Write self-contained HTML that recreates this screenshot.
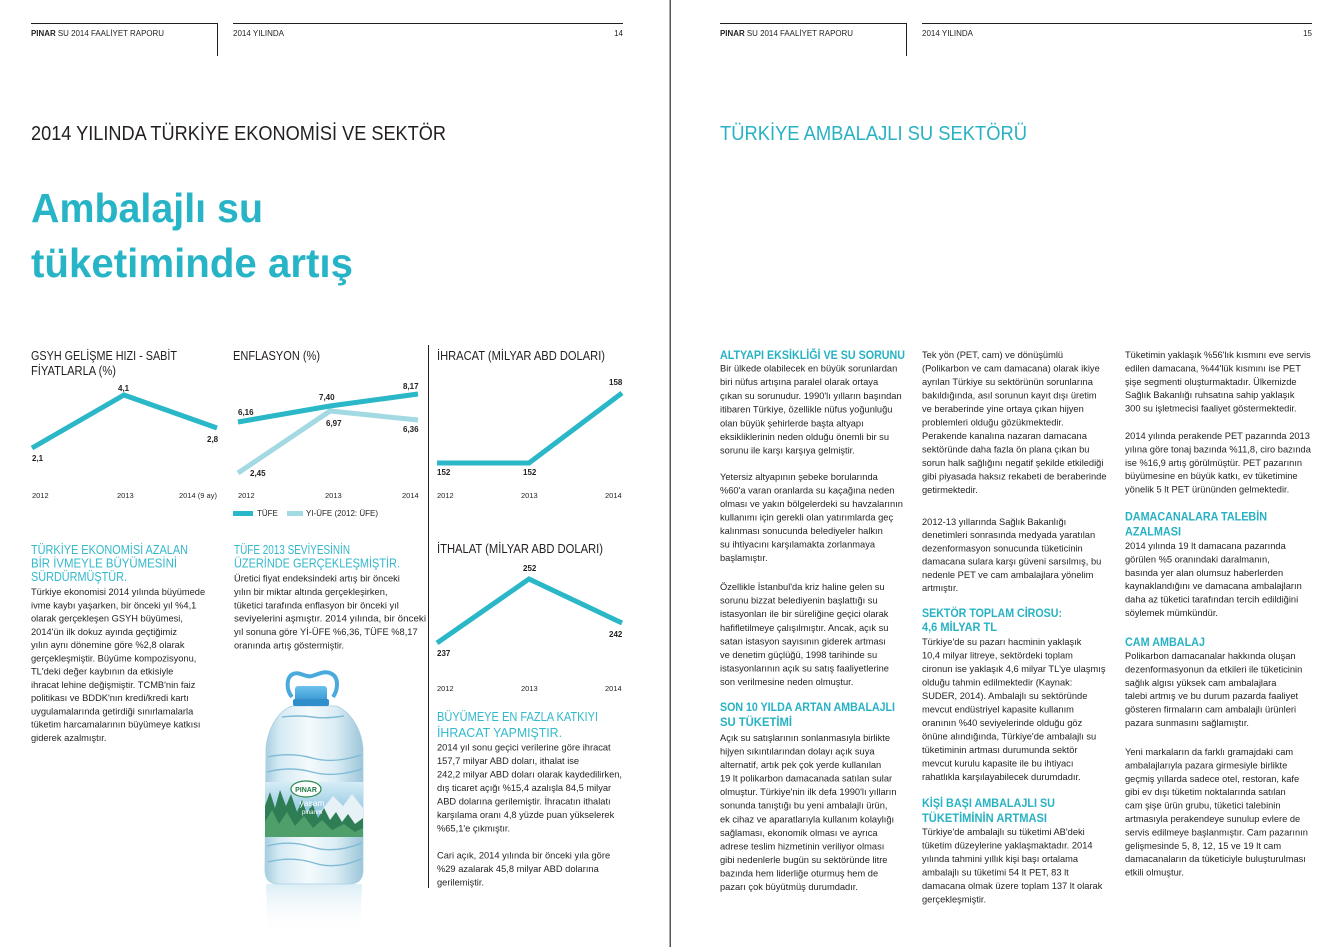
<!DOCTYPE html>
<html><head><meta charset="utf-8">
<style>
html,body{margin:0;padding:0;background:#fff;}
svg{display:block;}
.b{font-family:"Liberation Sans",sans-serif;font-size:9.3px;fill:#231f20;}
.h{font-family:"Liberation Sans",sans-serif;font-size:11.5px;font-weight:bold;fill:#27b2c4;}
.lh{font-family:"Liberation Sans",sans-serif;font-size:13px;fill:#33b9cc;}
.ct{font-family:"Liberation Sans",sans-serif;font-size:13px;fill:#231f20;}
.v{font-family:"Liberation Sans",sans-serif;font-size:8px;font-weight:bold;fill:#231f20;}
.y{font-family:"Liberation Sans",sans-serif;font-size:7.5px;fill:#231f20;}
.hd{font-family:"Liberation Sans",sans-serif;font-size:8px;fill:#231f20;}
</style></head>
<body>
<svg width="1340" height="947" viewBox="0 0 1340 947" xmlns="http://www.w3.org/2000/svg">
<defs>
<linearGradient id="bg" x1="0" x2="1" y1="0" y2="0">
<stop offset="0" stop-color="#a6cde0"/><stop offset="0.15" stop-color="#d5eaf3"/><stop offset="0.45" stop-color="#f4fafc"/><stop offset="0.72" stop-color="#dbedf4"/><stop offset="1" stop-color="#9cc6da"/>
</linearGradient>
<linearGradient id="sky" x1="0" x2="0" y1="0" y2="1">
<stop offset="0" stop-color="#d6edf6"/><stop offset="1" stop-color="#5aa8d0"/>
</linearGradient>
<linearGradient id="refl" x1="0" x2="0" y1="0" y2="1">
<stop offset="0" stop-color="#d4eaf3" stop-opacity="0.8"/><stop offset="1" stop-color="#ffffff" stop-opacity="0"/>
</linearGradient>
<linearGradient id="cap" x1="0" x2="0" y1="0" y2="1">
<stop offset="0" stop-color="#6cc2ec"/><stop offset="1" stop-color="#2a8ccb"/>
</linearGradient>
</defs>

<!-- spine -->
<rect x="669.5" y="0" width="1.5" height="947" fill="#555"/>

<!-- headers -->
<g stroke="#231f20" stroke-width="1" fill="none">
<line x1="31" y1="23.5" x2="217.5" y2="23.5"/><line x1="217.5" y1="23" x2="217.5" y2="56"/>
<line x1="233" y1="23.5" x2="623" y2="23.5"/>
<line x1="720" y1="23.5" x2="906.5" y2="23.5"/><line x1="906.5" y1="23" x2="906.5" y2="56"/>
<line x1="922" y1="23.5" x2="1312" y2="23.5"/>
</g>
<text class="hd" x="31" y="36" textLength="133" lengthAdjust="spacingAndGlyphs"><tspan font-weight="bold">PINAR</tspan> SU 2014 FAALİYET RAPORU</text>
<text class="hd" x="233" y="36" textLength="51" lengthAdjust="spacingAndGlyphs">2014 YILINDA</text>
<text class="hd" x="623" y="36" text-anchor="end">14</text>
<text class="hd" x="720" y="36" textLength="133" lengthAdjust="spacingAndGlyphs"><tspan font-weight="bold">PINAR</tspan> SU 2014 FAALİYET RAPORU</text>
<text class="hd" x="922" y="36" textLength="51" lengthAdjust="spacingAndGlyphs">2014 YILINDA</text>
<text class="hd" x="1312" y="36" text-anchor="end">15</text>

<!-- titles -->
<text x="31" y="140" font-family="Liberation Sans, sans-serif" font-size="20.5" fill="#231f20" textLength="415" lengthAdjust="spacingAndGlyphs">2014 YILINDA TÜRKİYE EKONOMİSİ VE SEKTÖR</text>
<text x="720" y="140" font-family="Liberation Sans, sans-serif" font-size="20.5" fill="#27b2c4" textLength="307" lengthAdjust="spacingAndGlyphs">TÜRKİYE AMBALAJLI SU SEKTÖRÜ</text>
<text x="31" y="222" font-family="Liberation Sans, sans-serif" font-size="41" font-weight="bold" fill="#27b4c6" textLength="232" lengthAdjust="spacingAndGlyphs">Ambalajlı su</text>
<text x="31" y="277" font-family="Liberation Sans, sans-serif" font-size="41" font-weight="bold" fill="#27b4c6" textLength="322" lengthAdjust="spacingAndGlyphs">tüketiminde artış</text>

<!-- charts -->
<text class="ct" x="31" y="360" textLength="146" lengthAdjust="spacingAndGlyphs">GSYH GELİŞME HIZI - SABİT</text>
<text class="ct" x="31" y="375" textLength="85" lengthAdjust="spacingAndGlyphs">FİYATLARLA (%)</text>
<text class="ct" x="233" y="360" textLength="87" lengthAdjust="spacingAndGlyphs">ENFLASYON (%)</text>
<text class="ct" x="437" y="360" textLength="168" lengthAdjust="spacingAndGlyphs">İHRACAT (MİLYAR ABD DOLARI)</text>
<text class="ct" x="437" y="553" textLength="166" lengthAdjust="spacingAndGlyphs">İTHALAT (MİLYAR ABD DOLARI)</text>

<line x1="428.5" y1="345" x2="428.5" y2="888" stroke="#231f20" stroke-width="1"/>

<g fill="none" stroke-width="5" stroke-linejoin="miter">
<polyline points="32,448 124,395 217,428" stroke="#2ab7c7"/>
<polyline points="238,473 330,411 418,420" stroke="#a3d9e2"/>
<polyline points="238,422 330,406 418,394" stroke="#2ab7c7"/>
<polyline points="437,463 529,463 622,393" stroke="#2ab7c7"/>
<polyline points="437,643 529,579 622,623" stroke="#2ab7c7"/>
</g>

<text class="v" x="32" y="461">2,1</text>
<text class="v" x="118" y="391">4,1</text>
<text class="v" x="207" y="442">2,8</text>
<text class="v" x="238" y="415">6,16</text>
<text class="v" x="319" y="400">7,40</text>
<text class="v" x="403" y="389">8,17</text>
<text class="v" x="326" y="426">6,97</text>
<text class="v" x="403" y="432">6,36</text>
<text class="v" x="250" y="476">2,45</text>
<text class="v" x="437" y="475">152</text>
<text class="v" x="523" y="475">152</text>
<text class="v" x="609" y="385">158</text>
<text class="v" x="523" y="571">252</text>
<text class="v" x="437" y="656">237</text>
<text class="v" x="609" y="637">242</text>

<text class="y" x="32" y="498">2012</text>
<text class="y" x="117" y="498">2013</text>
<text class="y" x="179" y="498">2014 (9 ay)</text>
<text class="y" x="238" y="498">2012</text>
<text class="y" x="325" y="498">2013</text>
<text class="y" x="402" y="498">2014</text>
<text class="y" x="437" y="498">2012</text>
<text class="y" x="521" y="498">2013</text>
<text class="y" x="605" y="498">2014</text>
<text class="y" x="437" y="691">2012</text>
<text class="y" x="521" y="691">2013</text>
<text class="y" x="605" y="691">2014</text>

<rect x="233" y="511" width="20" height="5" fill="#2ab7c7"/>
<text class="hd" x="257" y="516">TÜFE</text>
<rect x="287" y="511" width="16" height="5" fill="#a3d9e2"/>
<text class="hd" x="306" y="516" textLength="72" lengthAdjust="spacingAndGlyphs">YI-ÜFE (2012: ÜFE)</text>

<!-- left page text -->
<text class="lh" x="31" y="554" textLength="157" lengthAdjust="spacingAndGlyphs">TÜRKİYE EKONOMİSİ AZALAN</text>
<text class="lh" x="31" y="567.5" textLength="146" lengthAdjust="spacingAndGlyphs">BİR İVMEYLE BÜYÜMESİNİ</text>
<text class="lh" x="31" y="581" textLength="96" lengthAdjust="spacingAndGlyphs">SÜRDÜRMÜŞTÜR.</text>
<g class="b">
<text x="31" y="595">Türkiye ekonomisi 2014 yılında büyümede</text>
<text x="31" y="608.3">ivme kaybı yaşarken, bir önceki yıl %4,1</text>
<text x="31" y="621.5">olarak gerçekleşen GSYH büyümesi,</text>
<text x="31" y="634.8">2014'ün ilk dokuz ayında geçtiğimiz</text>
<text x="31" y="648.1">yılın aynı dönemine göre %2,8 olarak</text>
<text x="31" y="661.4">gerçekleşmiştir. Büyüme kompozisyonu,</text>
<text x="31" y="674.6">TL'deki değer kaybının da etkisiyle</text>
<text x="31" y="687.9">ihracat lehine değişmiştir. TCMB'nin faiz</text>
<text x="31" y="701.2">politikası ve BDDK'nın kredi/kredi kartı</text>
<text x="31" y="714.4">uygulamalarında getirdiği sınırlamalarla</text>
<text x="31" y="727.7">tüketim harcamalarının büyümeye katkısı</text>
<text x="31" y="741">giderek azalmıştır.</text>
</g>

<text class="lh" x="234" y="554" textLength="116" lengthAdjust="spacingAndGlyphs">TÜFE 2013 SEVİYESİNİN</text>
<text class="lh" x="234" y="567.5" textLength="166" lengthAdjust="spacingAndGlyphs">ÜZERİNDE GERÇEKLEŞMİŞTİR.</text>
<g class="b">
<text x="234" y="581.5">Üretici fiyat endeksindeki artış bir önceki</text>
<text x="234" y="594.9">yılın bir miktar altında gerçekleşirken,</text>
<text x="234" y="608.3">tüketici tarafında enflasyon bir önceki yıl</text>
<text x="234" y="621.7" textLength="192" lengthAdjust="spacingAndGlyphs">seviyelerini aşmıştır. 2014 yılında, bir önceki</text>
<text x="234" y="635.1">yıl sonuna göre Yİ-ÜFE %6,36, TÜFE %8,17</text>
<text x="234" y="648.5">oranında artış göstermiştir.</text>
</g>

<text class="lh" x="437" y="721" textLength="161" lengthAdjust="spacingAndGlyphs">BÜYÜMEYE EN FAZLA KATKIYI</text>
<text class="lh" x="437" y="737" textLength="125" lengthAdjust="spacingAndGlyphs">İHRACAT YAPMIŞTIR.</text>
<g class="b">
<text x="437" y="750.5">2014 yıl sonu geçici verilerine göre ihracat</text>
<text x="437" y="764">157,7 milyar ABD doları, ithalat ise</text>
<text x="437" y="777.5">242,2 milyar ABD doları olarak kaydedilirken,</text>
<text x="437" y="791">dış ticaret açığı %15,4 azalışla 84,5 milyar</text>
<text x="437" y="804.5">ABD dolarına gerilemiştir. İhracatın ithalatı</text>
<text x="437" y="818">karşılama oranı 4,8 yüzde puan yükselerek</text>
<text x="437" y="831.5">%65,1'e çıkmıştır.</text>
<text x="437" y="858.5">Cari açık, 2014 yılında bir önceki yıla göre</text>
<text x="437" y="872">%29 azalarak 45,8 milyar ABD dolarına</text>
<text x="437" y="885.5">gerilemiştir.</text>
</g>

<!-- bottle -->
<g>
<path d="M266 884 L362 884 L360 935 L268 935 Z" fill="url(#refl)"/>
<path d="M292 706 C280 710 268 726 266 748 L265 870 Q265 884 279 884 L349 884 Q363 884 363 870 L363 748 C361 726 348 710 336 706 Z" fill="url(#bg)" stroke="#a9cfe0" stroke-width="0.8"/>
<g fill="none" stroke="#7fbad6" stroke-width="1.4">
<path d="M282 717 Q300 715 312 717 T344 716"/>
<path d="M268 757 Q290 752 312 758 T361 755"/>
<path d="M267 772 Q290 766 312 772 T362 769"/>
<path d="M267 846 Q290 840 312 847 T362 843"/>
<path d="M268 862 Q292 856 314 863 T361 859"/>
</g>
<rect x="265" y="782" width="98" height="55" fill="url(#sky)"/>
<path d="M320 812 L333 796 L343 806 L352 794 L363 808 L363 837 L320 837 Z" fill="#e6f2f6"/>
<path d="M265 837 L265 806 L270 792 L275 808 L280 790 L286 806 L291 794 L297 812 L302 800 L307 814 L312 803 L318 818 L324 808 L330 820 L336 812 L342 822 L348 814 L355 824 L363 818 L363 837 Z" fill="#2f7d54"/>
<path d="M265 837 L265 822 L272 810 L279 824 L287 812 L295 826 L304 816 L313 828 L322 820 L332 830 L344 824 L355 832 L363 828 L363 837 Z" fill="#4f9f6a"/>
<ellipse cx="306" cy="789" rx="15" ry="8" fill="#ffffff" stroke="#2a8a4e" stroke-width="1.2"/>
<text x="306" y="792" text-anchor="middle" font-family="Liberation Sans, sans-serif" font-size="7" font-weight="bold" fill="#1f7a44">PINAR</text>
<text x="312" y="806" text-anchor="middle" font-family="Liberation Sans, sans-serif" font-size="8.5" fill="#ffffff">yaşam</text>
<text x="312" y="814" text-anchor="middle" font-family="Liberation Sans, sans-serif" font-size="6" fill="#ffffff">pınarım</text>
<path d="M292 697 C286 690 286 677 293 674 C300 671 305 678 312 676 C319 674 325 670 332 674 C339 678 338 690 333 697" fill="none" stroke="#4aa9dd" stroke-width="4"/>
<rect x="295" y="686" width="32" height="19" rx="3" fill="url(#cap)"/>
<rect x="293" y="699" width="36" height="7" rx="2" fill="#2f8fcc"/>
</g>

<!-- right page col 1 -->
<text class="h" x="720" y="359" textLength="185" lengthAdjust="spacingAndGlyphs">ALTYAPI EKSİKLİĞİ VE SU SORUNU</text>
<g class="b">
<text x="720" y="371.5">Bir ülkede olabilecek en büyük sorunlardan</text>
<text x="720" y="385.2">biri nüfus artışına paralel olarak ortaya</text>
<text x="720" y="398.9">çıkan su sorunudur. 1990'lı yılların başından</text>
<text x="720" y="412.6">itibaren Türkiye, özellikle nüfus yoğunluğu</text>
<text x="720" y="426.3">olan büyük şehirlerde başta altyapı</text>
<text x="720" y="440">eksikliklerinin neden olduğu önemli bir su</text>
<text x="720" y="453.7">sorunu ile karşı karşıya gelmiştir.</text>
<text x="720" y="480">Yetersiz altyapının şebeke borularında</text>
<text x="720" y="493.5">%60'a varan oranlarda su kaçağına neden</text>
<text x="720" y="507">olması ve yakın bölgelerdeki su havzalarının</text>
<text x="720" y="520.5">kullanımı için gerekli olan yatırımlarda geç</text>
<text x="720" y="534">kalınması sonucunda belediyeler halkın</text>
<text x="720" y="547.5">su ihtiyacını karşılamakta zorlanmaya</text>
<text x="720" y="561">başlamıştır.</text>
<text x="720" y="590">Özellikle İstanbul'da kriz haline gelen su</text>
<text x="720" y="603.6">sorunu bizzat belediyenin başlattığı su</text>
<text x="720" y="617.2">istasyonları ile bir süreliğine geçici olarak</text>
<text x="720" y="630.8">hafifletilmeye çalışılmıştır. Ancak, açık su</text>
<text x="720" y="644.4">satan istasyon sayısının giderek artması</text>
<text x="720" y="658">ve denetim güçlüğü, 1998 tarihinde su</text>
<text x="720" y="671.6">istasyonlarının açık su satış faaliyetlerine</text>
<text x="720" y="685.2">son verilmesine neden olmuştur.</text>
</g>
<text class="h" x="720" y="711" textLength="175" lengthAdjust="spacingAndGlyphs">SON 10 YILDA ARTAN AMBALAJLI</text>
<text class="h" x="720" y="726" textLength="72" lengthAdjust="spacingAndGlyphs">SU TÜKETİMİ</text>
<g class="b">
<text x="720" y="741">Açık su satışlarının sonlanmasıyla birlikte</text>
<text x="720" y="754.5">hijyen sıkıntılarından dolayı açık suya</text>
<text x="720" y="768.1">alternatif, artık pek çok yerde kullanılan</text>
<text x="720" y="781.6">19 lt polikarbon damacanada satılan sular</text>
<text x="720" y="795.2">olmuştur. Türkiye'nin ilk defa 1990'lı yılların</text>
<text x="720" y="808.7">sonunda tanıştığı bu yeni ambalajlı ürün,</text>
<text x="720" y="822.3">ek cihaz ve aparatlarıyla kullanım kolaylığı</text>
<text x="720" y="835.8">sağlaması, ekonomik olması ve ayrıca</text>
<text x="720" y="849.4">adrese teslim hizmetinin veriliyor olması</text>
<text x="720" y="862.9">gibi nedenlerle bugün su sektöründe litre</text>
<text x="720" y="876.5">bazında hem liderliğe oturmuş hem de</text>
<text x="720" y="890">pazarı çok büyütmüş durumdadır.</text>
</g>

<!-- right page col 2 -->
<g class="b">
<text x="922" y="358">Tek yön (PET, cam) ve dönüşümlü</text>
<text x="922" y="371.5">(Polikarbon ve cam damacana) olarak ikiye</text>
<text x="922" y="385">ayrılan Türkiye su sektörünün sorunlarına</text>
<text x="922" y="398.5">bakıldığında, asıl sorunun kayıt dışı üretim</text>
<text x="922" y="412">ve beraberinde yine ortaya çıkan hijyen</text>
<text x="922" y="425.5">problemleri olduğu gözükmektedir.</text>
<text x="922" y="439">Perakende kanalına nazaran damacana</text>
<text x="922" y="452.5">sektöründe daha fazla ön plana çıkan bu</text>
<text x="922" y="466">sorun halk sağlığını negatif şekilde etkilediği</text>
<text x="922" y="479.5">gibi piyasada haksız rekabeti de beraberinde</text>
<text x="922" y="493">getirmektedir.</text>
<text x="922" y="525">2012-13 yıllarında Sağlık Bakanlığı</text>
<text x="922" y="538.2">denetimleri sonrasında medyada yaratılan</text>
<text x="922" y="551.4">dezenformasyon sonucunda tüketicinin</text>
<text x="922" y="564.6">damacana sulara karşı güveni sarsılmış, bu</text>
<text x="922" y="577.8">nedenle PET ve cam ambalajlara yönelim</text>
<text x="922" y="591">artmıştır.</text>
</g>
<text class="h" x="922" y="617" textLength="140" lengthAdjust="spacingAndGlyphs">SEKTÖR TOPLAM CİROSU:</text>
<text class="h" x="922" y="631" textLength="75" lengthAdjust="spacingAndGlyphs">4,6 MİLYAR TL</text>
<g class="b">
<text x="922" y="645">Türkiye'de su pazarı hacminin yaklaşık</text>
<text x="922" y="658.5">10,4 milyar litreye, sektördeki toplam</text>
<text x="922" y="672">cironun ise yaklaşık 4,6 milyar TL'ye ulaşmış</text>
<text x="922" y="685.5">olduğu tahmin edilmektedir (Kaynak:</text>
<text x="922" y="699">SUDER, 2014). Ambalajlı su sektöründe</text>
<text x="922" y="712.5">mevcut endüstriyel kapasite kullanım</text>
<text x="922" y="726">oranının %40 seviyelerinde olduğu göz</text>
<text x="922" y="739.5">önüne alındığında, Türkiye'de ambalajlı su</text>
<text x="922" y="753">tüketiminin artması durumunda sektör</text>
<text x="922" y="766.5">mevcut kurulu kapasite ile bu ihtiyacı</text>
<text x="922" y="780">rahatlıkla karşılayabilecek durumdadır.</text>
</g>
<text class="h" x="922" y="807" textLength="133" lengthAdjust="spacingAndGlyphs">KİŞİ BAŞI AMBALAJLI SU</text>
<text class="h" x="922" y="822" textLength="125" lengthAdjust="spacingAndGlyphs">TÜKETİMİNİN ARTMASI</text>
<g class="b">
<text x="922" y="835">Türkiye'de ambalajlı su tüketimi AB'deki</text>
<text x="922" y="848.5">tüketim düzeylerine yaklaşmaktadır. 2014</text>
<text x="922" y="862">yılında tahmini yıllık kişi başı ortalama</text>
<text x="922" y="875.5">ambalajlı su tüketimi 54 lt PET, 83 lt</text>
<text x="922" y="889">damacana olmak üzere toplam 137 lt olarak</text>
<text x="922" y="902.5">gerçekleşmiştir.</text>
</g>

<!-- right page col 3 -->
<g class="b">
<text x="1125" y="358">Tüketimin yaklaşık %56'lık kısmını eve servis</text>
<text x="1125" y="371.4">edilen damacana, %44'lük kısmını ise PET</text>
<text x="1125" y="384.8">şişe segmenti oluşturmaktadır. Ülkemizde</text>
<text x="1125" y="398.2">Sağlık Bakanlığı ruhsatına sahip yaklaşık</text>
<text x="1125" y="411.6">300 su işletmecisi faaliyet göstermektedir.</text>
<text x="1125" y="439">2014 yılında perakende PET pazarında 2013</text>
<text x="1125" y="452.4">yılına göre tonaj bazında %11,8, ciro bazında</text>
<text x="1125" y="465.8">ise %16,9 artış görülmüştür. PET pazarının</text>
<text x="1125" y="479.2">büyümesine en büyük katkı, ev tüketimine</text>
<text x="1125" y="492.6">yönelik 5 lt PET ürününden gelmektedir.</text>
</g>
<text class="h" x="1125" y="520.5" textLength="142" lengthAdjust="spacingAndGlyphs">DAMACANALARA TALEBİN</text>
<text class="h" x="1125" y="535.5" textLength="56" lengthAdjust="spacingAndGlyphs">AZALMASI</text>
<g class="b">
<text x="1125" y="549">2014 yılında 19 lt damacana pazarında</text>
<text x="1125" y="562.4">görülen %5 oranındaki daralmanın,</text>
<text x="1125" y="575.8">basında yer alan olumsuz haberlerden</text>
<text x="1125" y="589.2">kaynaklandığını ve damacana ambalajların</text>
<text x="1125" y="602.6">daha az tüketici tarafından tercih edildiğini</text>
<text x="1125" y="616">söylemek mümkündür.</text>
</g>
<text class="h" x="1125" y="646" textLength="80" lengthAdjust="spacingAndGlyphs">CAM AMBALAJ</text>
<g class="b">
<text x="1125" y="659">Polikarbon damacanalar hakkında oluşan</text>
<text x="1125" y="672.4">dezenformasyonun da etkileri ile tüketicinin</text>
<text x="1125" y="685.8">sağlık algısı yüksek cam ambalajlara</text>
<text x="1125" y="699.2">talebi artmış ve bu durum pazarda faaliyet</text>
<text x="1125" y="712.6">gösteren firmaların cam ambalajlı ürünleri</text>
<text x="1125" y="726">pazara sunmasını sağlamıştır.</text>
<text x="1125" y="755">Yeni markaların da farklı gramajdaki cam</text>
<text x="1125" y="768.4">ambalajlarıyla pazara girmesiyle birlikte</text>
<text x="1125" y="781.8">geçmiş yıllarda sadece otel, restoran, kafe</text>
<text x="1125" y="795.2">gibi ev dışı tüketim noktalarında satılan</text>
<text x="1125" y="808.6">cam şişe ürün grubu, tüketici talebinin</text>
<text x="1125" y="822">artmasıyla perakendeye sunulup evlere de</text>
<text x="1125" y="835.4">servis edilmeye başlanmıştır. Cam pazarının</text>
<text x="1125" y="848.8">gelişmesinde 5, 8, 12, 15 ve 19 lt cam</text>
<text x="1125" y="862.2">damacanaların da tüketiciyle buluşturulması</text>
<text x="1125" y="875.6">etkili olmuştur.</text>
</g>
</svg>
</body></html>
